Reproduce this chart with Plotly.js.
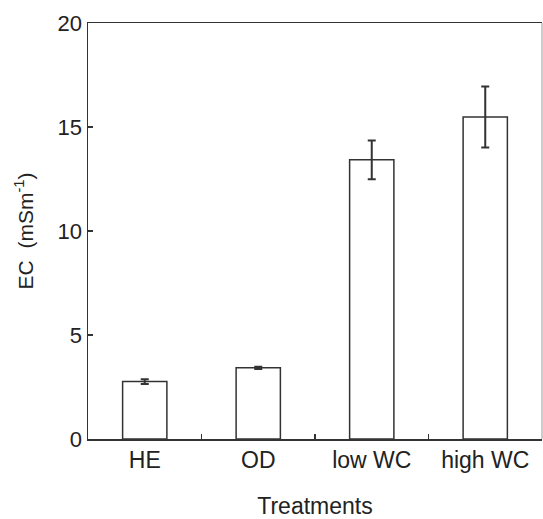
<!DOCTYPE html>
<html><head><meta charset="utf-8">
<script src="https://cdn.plot.ly/plotly-3.0.1.min.js"></script>
<style>html,body{margin:0;padding:0;background:#fff;}</style>
</head><body>
<div id="chart" style="width:543px;height:519px;"></div>
<script>
const categories = ["HE", "OD", "low WC", "high WC"];
const ecValues = [2.76, 3.42, 13.42, 15.48];
const ecErrors = [0.11, 0.05, 0.93, 1.47];

const trace = {
  type: "bar",
  x: categories,
  y: ecValues,
  width: 0.39,
  marker: {color: "#ffffff", line: {color: "#333333", width: 1.5}},
  error_y: {type: "data", array: ecErrors, visible: true, color: "#333333", thickness: 2, width: 4}
};

const layout = {
  width: 543, height: 519,
  margin: {l: 88, r: 1, t: 23, b: 80},
  paper_bgcolor: "#ffffff", plot_bgcolor: "#ffffff",
  font: {family: "Liberation Sans, Arial, sans-serif", color: "#222222", size: 21},
  showlegend: false,
  xaxis: {
    range: [-0.5, 3.5],
    tickson: "boundaries",
    ticks: "inside", ticklen: 5, tickwidth: 1.5, tickcolor: "#333333",
    showline: true, linecolor: "#333333", linewidth: 1.5, mirror: true,
    showgrid: false, zeroline: false,
    tickfont: {size: 23},
    title: {text: "Treatments", font: {size: 23}, standoff: 30}
  },
  yaxis: {
    range: [0, 20],
    tickvals: [0, 5, 10, 15, 20],
    ticks: "inside", ticklen: 5, tickwidth: 1.5, tickcolor: "#333333",
    showline: true, linecolor: "#333333", linewidth: 1.5,
    showgrid: false, zeroline: false,
    tickfont: {size: 22},
    title: {text: "EC  (mSm<sup>-1</sup>)", font: {size: 21}, standoff: 18}
  },
  shapes: [{type: "line", xref: "paper", yref: "paper", x0: 1, x1: 1, y0: 0, y1: 1,
            line: {color: "#bbbbbb", width: 1.5}}]
};

Plotly.newPlot("chart", [trace], layout, {displayModeBar: false, staticPlot: true});
</script>
</body></html>
